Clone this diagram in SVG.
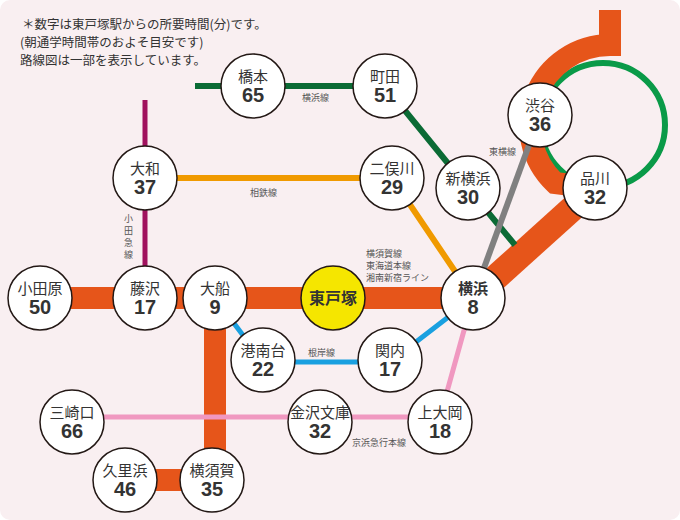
<svg xmlns="http://www.w3.org/2000/svg" width="680" height="520" viewBox="0 0 680 520">
<style>
.st circle{fill:#fff;stroke:#231815;stroke-width:1.5}
.nm{font-family:"Noto Sans CJK JP",sans-serif;font-size:15px;fill:#333;text-anchor:middle}
.nu{font-family:"Liberation Sans",sans-serif;font-size:20px;font-weight:bold;fill:#333;text-anchor:middle}
.lb{font-family:"Noto Sans CJK JP",sans-serif;font-size:9px;fill:#555}
.nt{font-family:"Noto Sans CJK JP",sans-serif;font-size:12.5px;fill:#333}
</style>
<rect x="0" y="0" width="680" height="520" rx="10" fill="#f9eff1"/>
<text class="nt" x="22" y="29">＊数字は東戸塚駅からの所要時間(分)です。</text>
<text class="nt" x="20" y="47">(朝通学時間帯のおよそ目安です)</text>
<text class="nt" x="20" y="65">路線図は一部を表示しています。</text>
<g id="connectors" fill="none">
<circle cx="603" cy="125" r="62" stroke="#0a9a48" stroke-width="6"/>
<path d="M610,10 V45 A80,80 0 0 0 555,183 L595,188" stroke="#e6551a" stroke-width="22"/>
<path d="M473,298 L595,188" stroke="#e6551a" stroke-width="26"/>
<path d="M40,298 H473" stroke="#e6551a" stroke-width="22"/>
<path d="M215,298 V480 M125,480 H212" stroke="#e6551a" stroke-width="22"/>
<path d="M195,86 H385 L468,188 L515,245" stroke="#0b6b35" stroke-width="6"/>
<path d="M145,100 V298" stroke="#a0125e" stroke-width="5"/>
<path d="M145,178 H392 L473,298" stroke="#f09a00" stroke-width="6"/>
<path d="M540,115 L473,298" stroke="#808080" stroke-width="6"/>
<path d="M215,298 L263,362 H390 L473,298" stroke="#1aa0e0" stroke-width="5"/>
<path d="M72,417 H440 L473,298" stroke="#f098c0" stroke-width="5"/>
</g>
<g id="labels">
<text class="lb" x="302" y="101">横浜線</text>
<text class="lb" x="489" y="155">東横線</text>
<text class="lb" x="250" y="196">相鉄線</text>
<text class="lb" x="124" y="222">小</text><text class="lb" x="124" y="234">田</text><text class="lb" x="124" y="246">急</text><text class="lb" x="124" y="258">線</text>
<text class="lb" x="366" y="257">横須賀線</text>
<text class="lb" x="366" y="269">東海道本線</text>
<text class="lb" x="366" y="281">湘南新宿ライン</text>
<text class="lb" x="308" y="356">根岸線</text>
<text class="lb" x="352" y="446">京浜急行本線</text>
</g>
<g id="n-hashimoto" class="st"><circle cx="253" cy="86" r="32"/><text class="nm" x="253" y="82">橋本</text><text class="nu" x="253" y="102">65</text></g>
<g id="n-machida" class="st"><circle cx="385" cy="86" r="32"/><text class="nm" x="385" y="82">町田</text><text class="nu" x="385" y="102">51</text></g>
<g id="n-shibuya" class="st"><circle cx="540" cy="115" r="32"/><text class="nm" x="540" y="111">渋谷</text><text class="nu" x="540" y="131">36</text></g>
<g id="n-shinagawa" class="st"><circle cx="595" cy="188" r="32"/><text class="nm" x="595" y="184">品川</text><text class="nu" x="595" y="204">32</text></g>
<g id="n-yamato" class="st"><circle cx="145" cy="178" r="32"/><text class="nm" x="145" y="174">大和</text><text class="nu" x="145" y="194">37</text></g>
<g id="n-futamatagawa" class="st"><circle cx="392" cy="178" r="32"/><text class="nm" x="392" y="174">二俣川</text><text class="nu" x="392" y="194">29</text></g>
<g id="n-shinyokohama" class="st"><circle cx="468" cy="188" r="32"/><text class="nm" x="468" y="184">新横浜</text><text class="nu" x="468" y="204">30</text></g>
<g id="n-odawara" class="st"><circle cx="40" cy="298" r="32"/><text class="nm" x="40" y="294">小田原</text><text class="nu" x="40" y="314">50</text></g>
<g id="n-fujisawa" class="st"><circle cx="145" cy="298" r="32"/><text class="nm" x="145" y="294">藤沢</text><text class="nu" x="145" y="314">17</text></g>
<g id="n-ofuna" class="st"><circle cx="215" cy="298" r="32"/><text class="nm" x="215" y="294">大船</text><text class="nu" x="215" y="314">9</text></g>
<g id="n-higashitotsuka"><circle cx="333" cy="298" r="32" fill="#f5e600" stroke="#231815" stroke-width="1.5"/><text class="nm" x="333" y="304" style="font-weight:bold;font-size:16px">東戸塚</text></g>
<g id="n-yokohama" class="st"><circle cx="473" cy="298" r="32"/><text class="nm" x="473" y="294" style="font-weight:bold">横浜</text><text class="nu" x="473" y="314">8</text></g>
<g id="n-konandai" class="st"><circle cx="263" cy="360" r="32"/><text class="nm" x="263" y="356">港南台</text><text class="nu" x="263" y="376">22</text></g>
<g id="n-kannai" class="st"><circle cx="390" cy="360" r="32"/><text class="nm" x="390" y="356">関内</text><text class="nu" x="390" y="376">17</text></g>
<g id="n-misakiguchi" class="st"><circle cx="72" cy="422" r="32"/><text class="nm" x="72" y="418">三崎口</text><text class="nu" x="72" y="438">66</text></g>
<g id="n-kanazawabunko" class="st"><circle cx="320" cy="422" r="32"/><text class="nm" x="320" y="418">金沢文庫</text><text class="nu" x="320" y="438">32</text></g>
<g id="n-kamiooka" class="st"><circle cx="440" cy="422" r="32"/><text class="nm" x="440" y="418">上大岡</text><text class="nu" x="440" y="438">18</text></g>
<g id="n-kurihama" class="st"><circle cx="125" cy="480" r="32"/><text class="nm" x="125" y="476">久里浜</text><text class="nu" x="125" y="496">46</text></g>
<g id="n-yokosuka" class="st"><circle cx="212" cy="480" r="32"/><text class="nm" x="212" y="476">横須賀</text><text class="nu" x="212" y="496">35</text></g>
</svg>
